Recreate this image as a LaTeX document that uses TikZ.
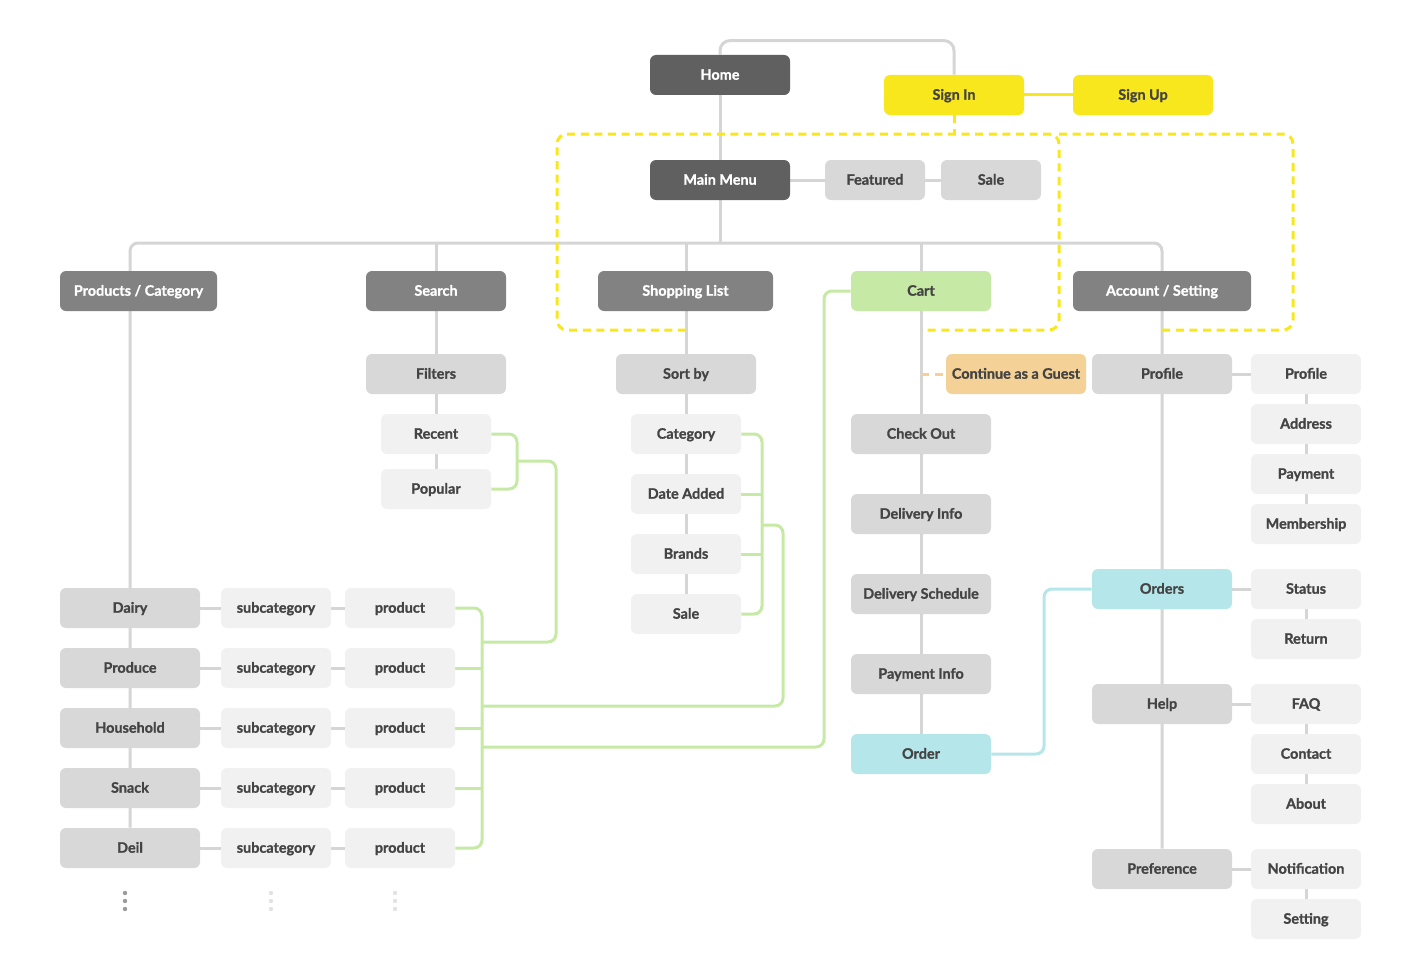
\documentclass[tikz,border=0pt]{standalone}
\usepackage{fontspec}
\setmainfont{Lato}[BoldFeatures={FakeBold=1.2}]
\usetikzlibrary{backgrounds}
\definecolor{boxdark}{HTML}{606060}
\definecolor{boxmid}{HTML}{828282}
\definecolor{boxlight}{HTML}{D8D8D8}
\definecolor{boxpale}{HTML}{F1F1F1}
\definecolor{boxyellow}{HTML}{F8E71C}
\definecolor{boxgreen}{HTML}{C6EAA6}
\definecolor{boxcyan}{HTML}{B5E6EA}
\definecolor{boxorange}{HTML}{F3D197}
\definecolor{linegray}{HTML}{D5D5D5}
\definecolor{txtgray}{HTML}{444444}
\definecolor{dotgray}{HTML}{9B9B9B}
\definecolor{dotpale}{HTML}{E2E2E2}

\begin{document}
\begin{tikzpicture}[x=0.5pt,y=-0.5pt,
    box/.style={rounded corners=3pt, minimum height=20pt, minimum width=70pt, inner sep=0pt,
                text height=5pt, text depth=0.3pt,
                font=\fontsize{7.2}{8}\selectfont\bfseries, text=txtgray},
    dark/.style={box, fill=boxdark, text=white},
    mid/.style={box, fill=boxmid, text=white},
    light/.style={box, fill=boxlight},
    pale/.style={box, fill=boxpale, minimum width=55pt},
    yel/.style={box, fill=boxyellow},
    glink/.style={draw=linegray, line width=1.5pt},
    grlink/.style={draw=boxgreen, line width=1.5pt, rounded corners=4pt},
    cylink/.style={draw=boxcyan, line width=1.5pt, rounded corners=4pt},
    ylink/.style={draw=boxyellow, line width=1.5pt},
    ydash/.style={draw=boxyellow, line width=1.5pt, dash pattern=on 4pt off 2.8pt, rounded corners=5pt}]
    \useasboundingbox (0,0) rectangle (1422,979);

    % top
    \node[dark] (home) at (720,75) {Home};
    \node[yel] (signin) at (954,95) {Sign In};
    \node[yel] (signup) at (1143,95) {Sign Up};
    \node[dark] (main) at (720,180) {Main Menu};
    \node[light, minimum width=50pt] (feat) at (875,180) {Featured};
    \node[light, minimum width=50pt] (sale0) at (991,180) {Sale};

    % second level
    \node[mid, minimum width=78.5pt] (prod) at (138.5,291) {Products / Category};
    \node[mid] (search) at (436,291) {Search};
    \node[mid, minimum width=87.5pt] (shop) at (685.5,291) {Shopping List};
    \node[box, fill=boxgreen] (cart) at (921,291) {Cart};
    \node[mid, minimum width=89pt] (acct) at (1162,291) {Account / Setting};

    % search and sort
    \node[light] (filt) at (436,374) {Filters};
    \node[pale] (recent) at (436,434) {Recent};
    \node[pale] (popular) at (436,489) {Popular};
    \node[light] (sortby) at (686,374) {Sort by};
    \foreach \nm/\lab/\y in {scat/Category/434, sdate/Date Added/494, sbrand/Brands/554, ssale/Sale/614}
        \node[pale] (\nm) at (686,\y) {\lab};

    % categories
    \foreach \lab [count=\i] in {Dairy, Produce, Household, Snack, Deil} {
        \node[light] (cat\i) at (130,548+60*\i) {\lab};
        \node[pale] (sub\i) at (276,548+60*\i) {subcategory};
        \node[pale] (prd\i) at (400,548+60*\i) {product};
    }
    \foreach \y in {893,901,909} {
        \fill[dotgray] (125,\y) circle (1.1pt);
        \fill[dotpale] (271,\y) circle (1.1pt);
        \fill[dotpale] (395,\y) circle (1.1pt);
    }

    % cart flow
    \node[box, fill=boxorange] (guest) at (1016,374) {Continue as a Guest};
    \foreach \nm/\lab/\y in {chk/Check Out/434, dinfo/Delivery Info/514, dsched/Delivery Schedule/594, pinfo/Payment Info/674}
        \node[light] (\nm) at (921,\y) {\lab};
    \node[box, fill=boxcyan] (order) at (921,754) {Order};

    % account
    \node[light] (prof) at (1162,374) {Profile};
    \node[box, fill=boxcyan] (orders) at (1162,589) {Orders};
    \node[light] (help) at (1162,704) {Help};
    \node[light] (pref) at (1162,869) {Preference};
    \foreach \nm/\lab/\y in {pf/Profile/374, addr/Address/424, pay/Payment/474, mem/Membership/524,
                             stat/Status/589, ret/Return/639, faq/FAQ/704, cont/Contact/754,
                             about/About/804, noti/Notification/869, sett/Setting/919}
        \node[pale] (\nm) at (1306,\y) {\lab};

    \coordinate (bus) at (718,243);
    \coordinate (yl) at (557,134);
    \coordinate (yr) at (1059,330);
    \coordinate (yr2) at (1293,330);
    \coordinate (gbus) at (482,0);
    \coordinate (fmid) at (517,461);
    \coordinate (fdrop) at (556,642);
    \coordinate (smid) at (762,525);
    \coordinate (sdrop) at (783,706);
    \coordinate (cdrop) at (824,747);
    \coordinate (cyx) at (1044,0);

    \begin{scope}[on background layer]
        \draw[glink, rounded corners=5pt] (home.north) -- ++(0,-14) -| (signin.north);
        \draw[glink] (home) -- (main |- bus);
        \draw[glink] (main) -- (sale0);
        \draw[glink, rounded corners=4pt] (cat5) |- (bus) -| (pref);
        \draw[glink] (search |- bus) -- (popular);
        \draw[glink] (sortby |- bus) -- (ssale);
        \draw[glink] (cart |- bus) -- (order);
        \foreach \i in {1,...,5}
            \draw[glink] (cat\i) -- (sub\i) -- (prd\i);
        \draw[glink] (prof) -- (pf);
        \draw[glink] (pf) -- (mem);
        \draw[glink] (orders) -- (stat) -- (ret);
        \draw[glink] (help) -- (faq) -- (about);
        \draw[glink] (pref) -- (noti) -- (sett);

        % sign in
        \draw[ylink] (signin) -- (signup);
        \draw[ydash] (signin.south) -- (signin |- yl);
        \draw[ydash] (sortby |- yr) -| (yl) -| (yr) -- (cart |- yr);
        \draw[ydash] (yr |- yl) -| (yr2) -- (acct |- yr2);
        \draw[draw=boxorange, line width=1.5pt, dash pattern=on 4pt off 3pt] (cart |- guest) -- (guest.west);

        % green links
        \draw[grlink] (prd1.east) -| (gbus |- prd5) -- (prd5.east);
        \foreach \i in {2,3,4}
            \draw[grlink] (prd\i.east) -- (gbus |- prd\i);
        \draw[grlink] (recent.east) -| (fmid |- popular) -- (popular.east);
        \draw[grlink] (fmid) -| (fdrop) -- (gbus |- fdrop);
        \draw[grlink] (scat.east) -| (smid |- ssale) -- (ssale.east);
        \draw[grlink] (sdate.east) -- (smid |- sdate);
        \draw[grlink] (sbrand.east) -- (smid |- sbrand);
        \draw[grlink] (smid) -| (sdrop) -- (gbus |- sdrop);
        \draw[grlink] (gbus |- cdrop) -- (cdrop) |- (cart.west);

        % orders
        \draw[cylink] (order.east) -| (cyx |- orders) -- (orders.west);
    \end{scope}
\end{tikzpicture}
\end{document}
